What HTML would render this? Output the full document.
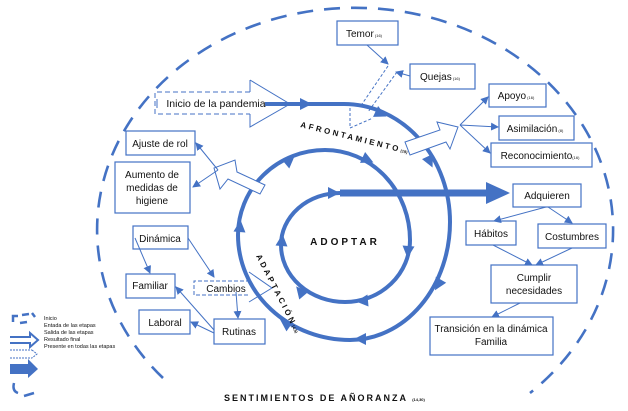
<!DOCTYPE html>
<html><head><meta charset="utf-8"><style>
html,body{margin:0;padding:0;background:#fff;width:628px;height:411px;overflow:hidden;}
svg{display:block;}
text{font-family:"Liberation Sans",sans-serif;fill:#111;}
.b{font-size:10px;text-anchor:middle;}
.box{fill:#fff;stroke:#4472c4;stroke-width:1.2;}
.ln{stroke:#4472c4;stroke-width:1;fill:none;}
</style></head><body>
<svg width="628" height="411" viewBox="0 0 628 411" xmlns="http://www.w3.org/2000/svg">
<defs>
<marker id="a" markerWidth="8" markerHeight="8" refX="7" refY="4" orient="auto" markerUnits="userSpaceOnUse"><path d="M0,0 L8,4 L0,8 z" fill="#4472c4"/></marker>
</defs>
<path d="M163,378 A258,222 0 1 1 530,393" fill="none" stroke="#4472c4" stroke-width="2.6" stroke-dasharray="16,11"/>

<path d="M265,104 L344,104 A106,118 0 0 1 450,222 A100,118 0 0 1 350,340 A112,105 0 0 1 238,235 A87,85 0 0 1 325,150 A85,90 0 0 1 410,240 A65,62 0 0 1 345,302 A64,57 0 0 1 281,245 A59,52 0 0 1 340,193" fill="none" stroke="#4472c4" stroke-width="4"/>
<path d="M340,193 L490,193" stroke="#4472c4" stroke-width="7"/>
<path d="M486,182 L510,193 L486,204 z" fill="#4472c4"/>
<g fill="#4472c4">
<path d="M-6,-6 L6,0 L-6,6 z" transform="translate(306,104)"/>
<path d="M-6,-6 L6,0 L-6,6 z" transform="translate(381,114) rotate(25)"/>
<path d="M-6,-6 L6,0 L-6,6 z" transform="translate(430,162) rotate(65)"/>
<path d="M-6,-6 L6,0 L-6,6 z" transform="translate(438,285) rotate(120)"/>
<path d="M-6,-6 L6,0 L-6,6 z" transform="translate(360,339) rotate(180)"/>
<path d="M-6,-6 L6,0 L-6,6 z" transform="translate(285,323) rotate(215)"/>
<path d="M-6,-6 L6,0 L-6,6 z" transform="translate(240,226) rotate(275)"/>
<path d="M-6,-6 L6,0 L-6,6 z" transform="translate(290,160) rotate(320)"/>
<path d="M-6,-6 L6,0 L-6,6 z" transform="translate(368,160) rotate(25)"/>
<path d="M-6,-6 L6,0 L-6,6 z" transform="translate(408,252) rotate(95)"/>
<path d="M-6,-6 L6,0 L-6,6 z" transform="translate(362,301) rotate(175)"/>
<path d="M-6,-6 L6,0 L-6,6 z" transform="translate(300,291) rotate(230)"/>
<path d="M-6,-6 L6,0 L-6,6 z" transform="translate(282,240) rotate(275)"/>
<path d="M-6,-6 L6,0 L-6,6 z" transform="translate(334,193)"/>
</g>

<path d="M250,92 L155,92 L155,114 L250,114" class="ln" stroke-dasharray="5,3"/>
<line x1="157" y1="99" x2="157" y2="108" class="ln"/>
<path d="M250,80 L290,104 L250,127 L250,114 M250,92 L250,80" class="ln"/>
<text class="b" x="216" y="107" style="font-size:10.5px">Inicio de la pandemia</text>

<rect class="box" x="337" y="21" width="61" height="24"/>
<text class="b" x="364" y="37">Temor<tspan style="font-size:4px"> (16)</tspan></text>
<rect class="box" x="410" y="64" width="65" height="25"/>
<text class="b" x="440" y="80">Quejas<tspan style="font-size:4px"> (16)</tspan></text>
<line class="ln" x1="367" y1="45" x2="388" y2="64" marker-end="url(#a)"/>
<line class="ln" x1="410" y1="76" x2="396" y2="72" marker-end="url(#a)"/>
<path d="M388,66 L360,107 M397,72 L368,112 M350,108 L350,128 L373,118" class="ln" stroke-dasharray="3,2"/>

<path d="M405,142 L440,130 L437,122 L458,127 L450,149 L446,142 L410,155 z" fill="#fff" stroke="#4472c4" stroke-width="1"/>
<line class="ln" x1="460" y1="125" x2="488" y2="97" marker-end="url(#a)"/>
<line class="ln" x1="460" y1="125" x2="498" y2="127" marker-end="url(#a)"/>
<line class="ln" x1="460" y1="125" x2="490" y2="153" marker-end="url(#a)"/>
<rect class="box" x="489" y="84" width="57" height="23"/>
<text class="b" x="516" y="99">Apoyo<tspan style="font-size:4px"> (16)</tspan></text>
<rect class="box" x="499" y="116" width="75" height="24"/>
<text class="b" x="535" y="132">Asimilación<tspan style="font-size:4px"> (8)</tspan></text>
<rect class="box" x="491" y="143" width="101" height="24"/>
<text class="b" x="540" y="159">Reconocimiento<tspan style="font-size:4px">(16)</tspan></text>

<rect class="box" x="513" y="184" width="68" height="23"/>
<text class="b" x="547" y="199">Adquieren</text>
<rect class="box" x="466" y="221" width="50" height="24"/>
<text class="b" x="491" y="237">Hábitos</text>
<rect class="box" x="538" y="224" width="68" height="24"/>
<text class="b" x="572" y="240">Costumbres</text>
<rect class="box" x="491" y="265" width="86" height="38"/>
<text class="b" x="534" y="281">Cumplir</text>
<text class="b" x="534" y="294">necesidades</text>
<rect class="box" x="430" y="317" width="123" height="38"/>
<text class="b" x="491" y="332">Transición en la dinámica</text>
<text class="b" x="491" y="345">Familia</text>
<line class="ln" x1="546" y1="207" x2="494" y2="221" marker-end="url(#a)"/>
<line class="ln" x1="548" y1="207" x2="572" y2="223" marker-end="url(#a)"/>
<line class="ln" x1="493" y1="245" x2="532" y2="265" marker-end="url(#a)"/>
<line class="ln" x1="572" y1="248" x2="536" y2="265" marker-end="url(#a)"/>
<line class="ln" x1="520" y1="303" x2="492" y2="317" marker-end="url(#a)"/>

<path d="M265,185 L237,172 L235,160 L214,168 L220,189 L228,179 L260,194 z" fill="#fff" stroke="#4472c4" stroke-width="1"/>
<line class="ln" x1="218" y1="170" x2="196" y2="143" marker-end="url(#a)"/>
<line class="ln" x1="218" y1="170" x2="193" y2="187" marker-end="url(#a)"/>
<rect class="box" x="126" y="131" width="69" height="24"/>
<text class="b" x="160" y="147">Ajuste de rol</text>
<rect class="box" x="115" y="162" width="75" height="51"/>
<text class="b" x="152" y="178">Aumento de</text>
<text class="b" x="152" y="191">medidas de</text>
<text class="b" x="152" y="204">higiene</text>

<rect class="box" x="133" y="226" width="55" height="23"/>
<text class="b" x="160" y="242">Dinámica</text>
<rect class="box" x="126" y="274" width="49" height="24"/>
<text class="b" x="150" y="289">Familiar</text>
<rect class="box" x="139" y="310" width="51" height="24"/>
<text class="b" x="165" y="326">Laboral</text>
<path d="M250,281 L194,281 L194,295 L250,295" class="ln" stroke-dasharray="4,2"/>
<path d="M249,272 L272,288 L249,302" class="ln"/>
<text class="b" x="226" y="292">Cambios</text>
<rect class="box" x="214" y="319" width="51" height="25"/>
<text class="b" x="239" y="335">Rutinas</text>
<line class="ln" x1="135" y1="238" x2="150" y2="273" marker-end="url(#a)"/>
<line class="ln" x1="188" y1="238" x2="214" y2="277" marker-end="url(#a)"/>
<line class="ln" x1="236" y1="292" x2="238" y2="318" marker-end="url(#a)"/>
<line class="ln" x1="214" y1="330" x2="176" y2="287" marker-end="url(#a)"/>
<line class="ln" x1="214" y1="333" x2="191" y2="322" marker-end="url(#a)"/>

<text x="300" y="127" transform="rotate(14 300 127)" style="font-size:8px;font-weight:bold;letter-spacing:2.6px">AFRONTAMIENTO<tspan style="font-size:4px;letter-spacing:0">(19)</tspan></text>
<text x="256" y="256" transform="rotate(63 256 256)" style="font-size:8px;font-weight:bold;letter-spacing:2.6px">ADAPTACIÓN<tspan style="font-size:4px;letter-spacing:0">(4,5)</tspan></text>
<text x="345" y="245" text-anchor="middle" style="font-size:10px;font-weight:bold;letter-spacing:3px">ADOPTAR</text>
<text x="224" y="401" style="font-size:9px;font-weight:bold;letter-spacing:2px">SENTIMIENTOS DE AÑORANZA <tspan style="font-size:4px;letter-spacing:0">(14,30)</tspan></text>

<g stroke="#4472c4" fill="none" stroke-width="2.5">
<path d="M13,322 L13,316 L18,316 M22,315 L29,314 M32,313 L35,317 M20,323 L27,322" />
<path d="M10,337 L30,337 L30,333 L38,340 L30,347 L30,343 L10,343" stroke-width="2"/>
<path d="M10,350 L32,350 M10,358 L32,358 M32,350 L37,354 L32,358" stroke-width="1" stroke-dasharray="2,1"/>
</g>
<path d="M10,364 L28,364 L28,359 L38,369 L28,378 L28,374 L10,374 z" fill="#4472c4"/>
<path d="M14,383 Q12,391 18,393 M24,396 L34,393" stroke="#4472c4" stroke-width="2.5" fill="none"/>
<g style="font-size:5.5px">
<text x="44" y="320">Inicio</text>
<text x="44" y="327">Entada de las etapas</text>
<text x="44" y="334">Salida de las etapas</text>
<text x="44" y="341">Resultado final</text>
<text x="44" y="348">Presente en todas las etapas</text>
</g>
</svg>
</body></html>
